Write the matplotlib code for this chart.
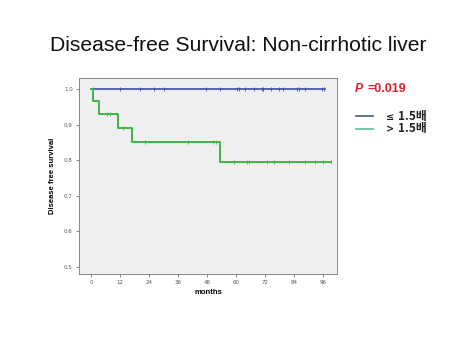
import matplotlib
matplotlib.use("Agg")
import matplotlib.pyplot as plt
import numpy as np

# Data
blue_times = [0.0, 96.8]
blue_surv = [1.0, 1.0]
blue_censor_t = [0.6, 12, 20.2, 26.2, 30.2, 47.4, 53.4, 60.5, 61.3, 63.5, 67.5,
                 70.5, 71.2, 74.4, 77.7, 79.5, 85, 86.1, 88.6, 95.5, 96.3]

green_event_t = [0.0, 0.6, 3.3, 11.3, 16.8, 53.4]
green_event_s = [1.0, 0.966, 0.929, 0.891, 0.851, 0.794]
green_end_t = 99.2
green_censor_t = [6.7, 7.9, 13.0, 22.3, 40.2, 50.5, 51.5, 59.2, 64.3, 65.3,
                  72.9, 75.6, 81.8, 88.6, 92.6, 95.7, 99.2]

xticks = [0, 12, 24, 36, 48, 60, 72, 84, 96]
yticks = [0.5, 0.6, 0.7, 0.8, 0.9, 1.0]

title = "Disease-free Survival: Non-cirrhotic liver"
legend_symbols = ["\u2264", ">"]
legend_values = ["1.5\ubc30", "1.5\ubc30"]
p_text = "=0.019"

BLUE = "#3b4ea6"
GREEN = "#3db54a"

fig = plt.figure(figsize=(4.74, 3.55), dpi=100)
fig.patch.set_facecolor("white")
ax = fig.add_axes([0.1667, 0.228, 0.5443, 0.552])
ax.set_facecolor("#efefef")

# blue step
ax.step(blue_times, blue_surv, where="post", color=BLUE, lw=1.2)
ax.plot(blue_censor_t, [1.0] * len(blue_censor_t), ls="none", marker="|",
        color=BLUE, ms=3, mew=0.6)

# green step
gt = green_event_t + [green_end_t]
gs = green_event_s + [green_event_s[-1]]
ax.step(gt, gs, where="post", color=GREEN, lw=1.4)
def surv_at(t):
    idx = np.searchsorted(green_event_t, t, side="right") - 1
    return green_event_s[idx]
ax.plot(green_censor_t, [surv_at(t) for t in green_censor_t], ls="none",
        marker="|", color=GREEN, ms=3, mew=0.6)

ax.set_xlim(-5, 101.7)
ax.set_ylim(0.48, 1.031)
ax.set_xticks(xticks)
ax.set_xticklabels([str(x) for x in xticks])
ax.set_yticks(yticks)
ax.set_yticklabels([f"{y:.1f}" for y in yticks])
ax.tick_params(axis="both", labelsize=4, colors="#555555", length=2.5,
               width=0.5, pad=2)
for s in ax.spines.values():
    s.set_color("#777777")
    s.set_linewidth(0.6)

ax.set_xlabel("months", fontsize=5.5, fontweight="bold", labelpad=3,
              family="Liberation Sans")
ax.set_ylabel("Disease free survival", fontsize=5.5, fontweight="bold",
              labelpad=6, family="Liberation Sans")

fig.text(0.503, 0.872, title, fontsize=15.2, ha="center", va="center",
         family="Liberation Sans", color="#111111")

# P value
fig.text(355 / 474, 1 - 92 / 355, "P", fontsize=9, color="#e0202a",
         fontstyle="italic", fontweight="bold", va="baseline", ha="left",
         family="Liberation Sans")
fig.text(368 / 474, 1 - 92 / 355, p_text, fontsize=9, color="#e0202a",
         fontweight="bold", va="baseline", ha="left", family="Liberation Sans")

# legend
leg_colors = ["#4e6b7d", "#6cbf9d"]
for i, (sym, val, c) in enumerate(zip(legend_symbols, legend_values, leg_colors)):
    yline = 116 + 12.5 * i
    yy = 1 - yline / 355
    yb = 1 - (yline + 4) / 355
    fig.add_artist(plt.Line2D([356 / 474, 373 / 474], [yy, yy], color=c,
                              lw=1.3, transform=fig.transFigure))
    fig.text(386 / 474, yb, sym, fontsize=7, fontweight="bold",
             va="baseline", ha="left", color="#222222",
             family=["DejaVu Sans"])
    fig.text(398 / 474, yb, val, fontsize=8.5, fontweight="bold",
             va="baseline", ha="left", color="#222222",
             family=["Noto Sans CJK KR", "DejaVu Sans"])

fig.savefig("out.png", dpi=100)
